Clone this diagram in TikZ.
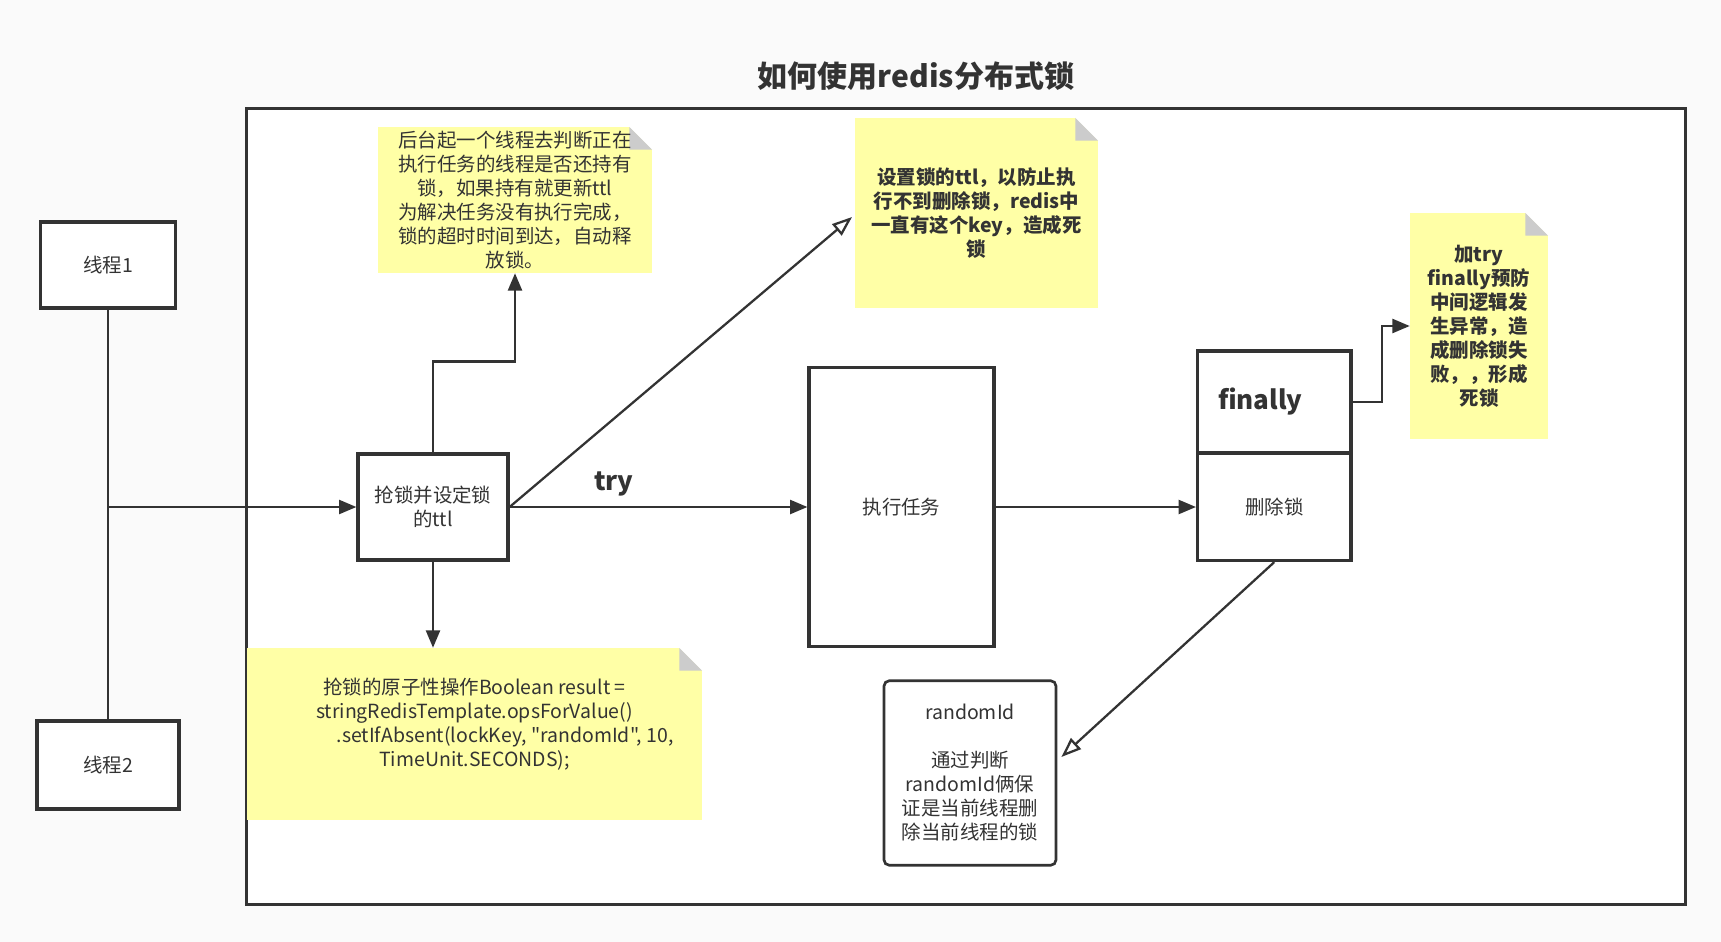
\documentclass[tikz,border=0pt]{standalone}
\usepackage{fontspec}
\setmainfont{Noto Sans CJK SC}[Ligatures=TeXOff]
\usepackage{xcolor}
\usepackage{tikz}
\usetikzlibrary{arrows.meta,positioning,backgrounds}

\definecolor{ink}{HTML}{333333}
\definecolor{notefill}{HTML}{FFFFA6}
\definecolor{foldgray}{HTML}{CCCCCC}
\definecolor{pagebg}{HTML}{FAFAFA}

\begin{document}
\begin{tikzpicture}[x=0.75pt, y=-0.75pt,
  font=\fontsize{14.6}{18}\selectfont, text=ink,
  box/.style   = {rectangle, draw=ink, line width=2.4pt, fill=white,
                  align=center, inner sep=0pt},
  note/.style  = {rectangle, fill=notefill, inner sep=0pt, align=center,
                  path picture={
                    \fill[white] (path picture bounding box.north east)
                      -- ++(-17pt,0) -- ++(17pt,-17pt) -- cycle;
                    \fill[foldgray] (path picture bounding box.north east)
                      ++(-17pt,0) -- ++(0,-17pt) -- ++(17pt,0) -- cycle;}},
  bnote/.style = {note, font=\bfseries\fontsize{14.6}{18}\selectfont},
  kw/.style    = {font=\bfseries\fontsize{19.5}{23}\selectfont},
  arr/.style   = {-{Triangle[length=13pt,width=10.5pt]}, line width=1.7pt, draw=ink},
  oarr/.style  = {-{Triangle[open,length=15pt,width=11pt,fill=white]},
                  line width=1.7pt, draw=ink},
  ln/.style    = {line width=1.7pt, draw=ink}
]

% -- page and frame --
\fill[pagebg] (0,0) rectangle (1721,942);
\useasboundingbox (0,0) rectangle (1721,942);
\node[rectangle, draw=ink, line width=2.25pt, fill=white,
      minimum width=1079.25pt, minimum height=596.25pt] (frame) at (965.5,506.5) {};
\node[font=\bfseries\fontsize{22.5}{27}\selectfont] (title) at (916,76)
      {如何使用redis分布式锁};

% -- threads --
\node[box, minimum width=101.25pt, minimum height=64.5pt] (t1) at (108,265) {线程1};
\node[box, minimum width=106.5pt,  minimum height=66pt]   (t2) at (108,765) {线程2};

% -- main flow --
\node[box, minimum width=112.5pt, minimum height=79.5pt]   (grab) at (433,507)
      {抢锁并设定锁\\的ttl};
\node[box, minimum width=138.75pt, minimum height=209.25pt] (run) at (901.5,507)
      {执行任务};
\node[box, minimum width=115.1pt, minimum height=76.5pt]   (fhead) at (1274.3,402)
      {\textbf{\fontsize{19.5}{23}\selectfont finally}\hspace{21pt}};
\node[box, minimum width=115.1pt, minimum height=80.25pt]  (fbody) at (1274.3,507)
      {删除锁};
\node[box, line width=2pt, rounded corners=4pt,
      minimum width=129pt, minimum height=138.4pt]         (rid) at (970,773)
      {randomId\\\mbox{}\\通过判断\\randomId俩保\\证是当前线程删\\除当前线程的锁};

% -- notes --
\node[note, minimum width=205.5pt, minimum height=109.5pt] (n1) at (515,200)
      {后台起一个线程去判断正在\\执行任务的线程是否还持有\\锁，如果持有就更新ttl\\为解决任务没有执行完成，\\锁的超时时间到达，自动释\\放锁。};
\node[bnote, minimum width=182.25pt, minimum height=142.5pt] (n2) at (976.5,213)
      {设置锁的ttl，以防止执\\行不到删除锁，redis中\\一直有这个key，造成死\\锁};
\node[note, minimum width=341.25pt, minimum height=129pt] (n3) at (474.5,734)
      {抢锁的原子性操作Boolean result =\\stringRedisTemplate.opsForValue()\\
       \hspace*{46pt}.setIfAbsent(lockKey, "randomId", 10,\\TimeUnit.SECONDS);\\\mbox{}};
\node[bnote, minimum width=103.5pt, minimum height=169.5pt] (n4) at (1479,326)
      {加try\\finally预防\\中间逻辑发\\生异常，造\\成删除锁失\\败，，形成\\死锁};

% -- connectors --
\draw[ln]  (t1.south) -- (t2.north);
\draw[arr] (t1.south |- grab.west) -- (grab.west);
\draw[arr] (grab.north) -- ++(0,-91) -| (n1.south);
\draw[arr] (grab.south) -- (grab.south |- n3.north);
\draw[oarr] (grab.east) -- ([xshift=-2pt,yshift=-3pt]n2.west);
\draw[arr] (grab.east) -- node[kw, pos=0.35, above=4pt] (try) {try} (run.west);
\draw[arr] (run.east) -- (fbody.west);
\draw[arr] (fhead.east) -- ++(29,0) |- (n4.west);
\draw[oarr] (fbody.south) -- ([xshift=3pt,yshift=12pt]rid.east);

\end{tikzpicture}
\end{document}
